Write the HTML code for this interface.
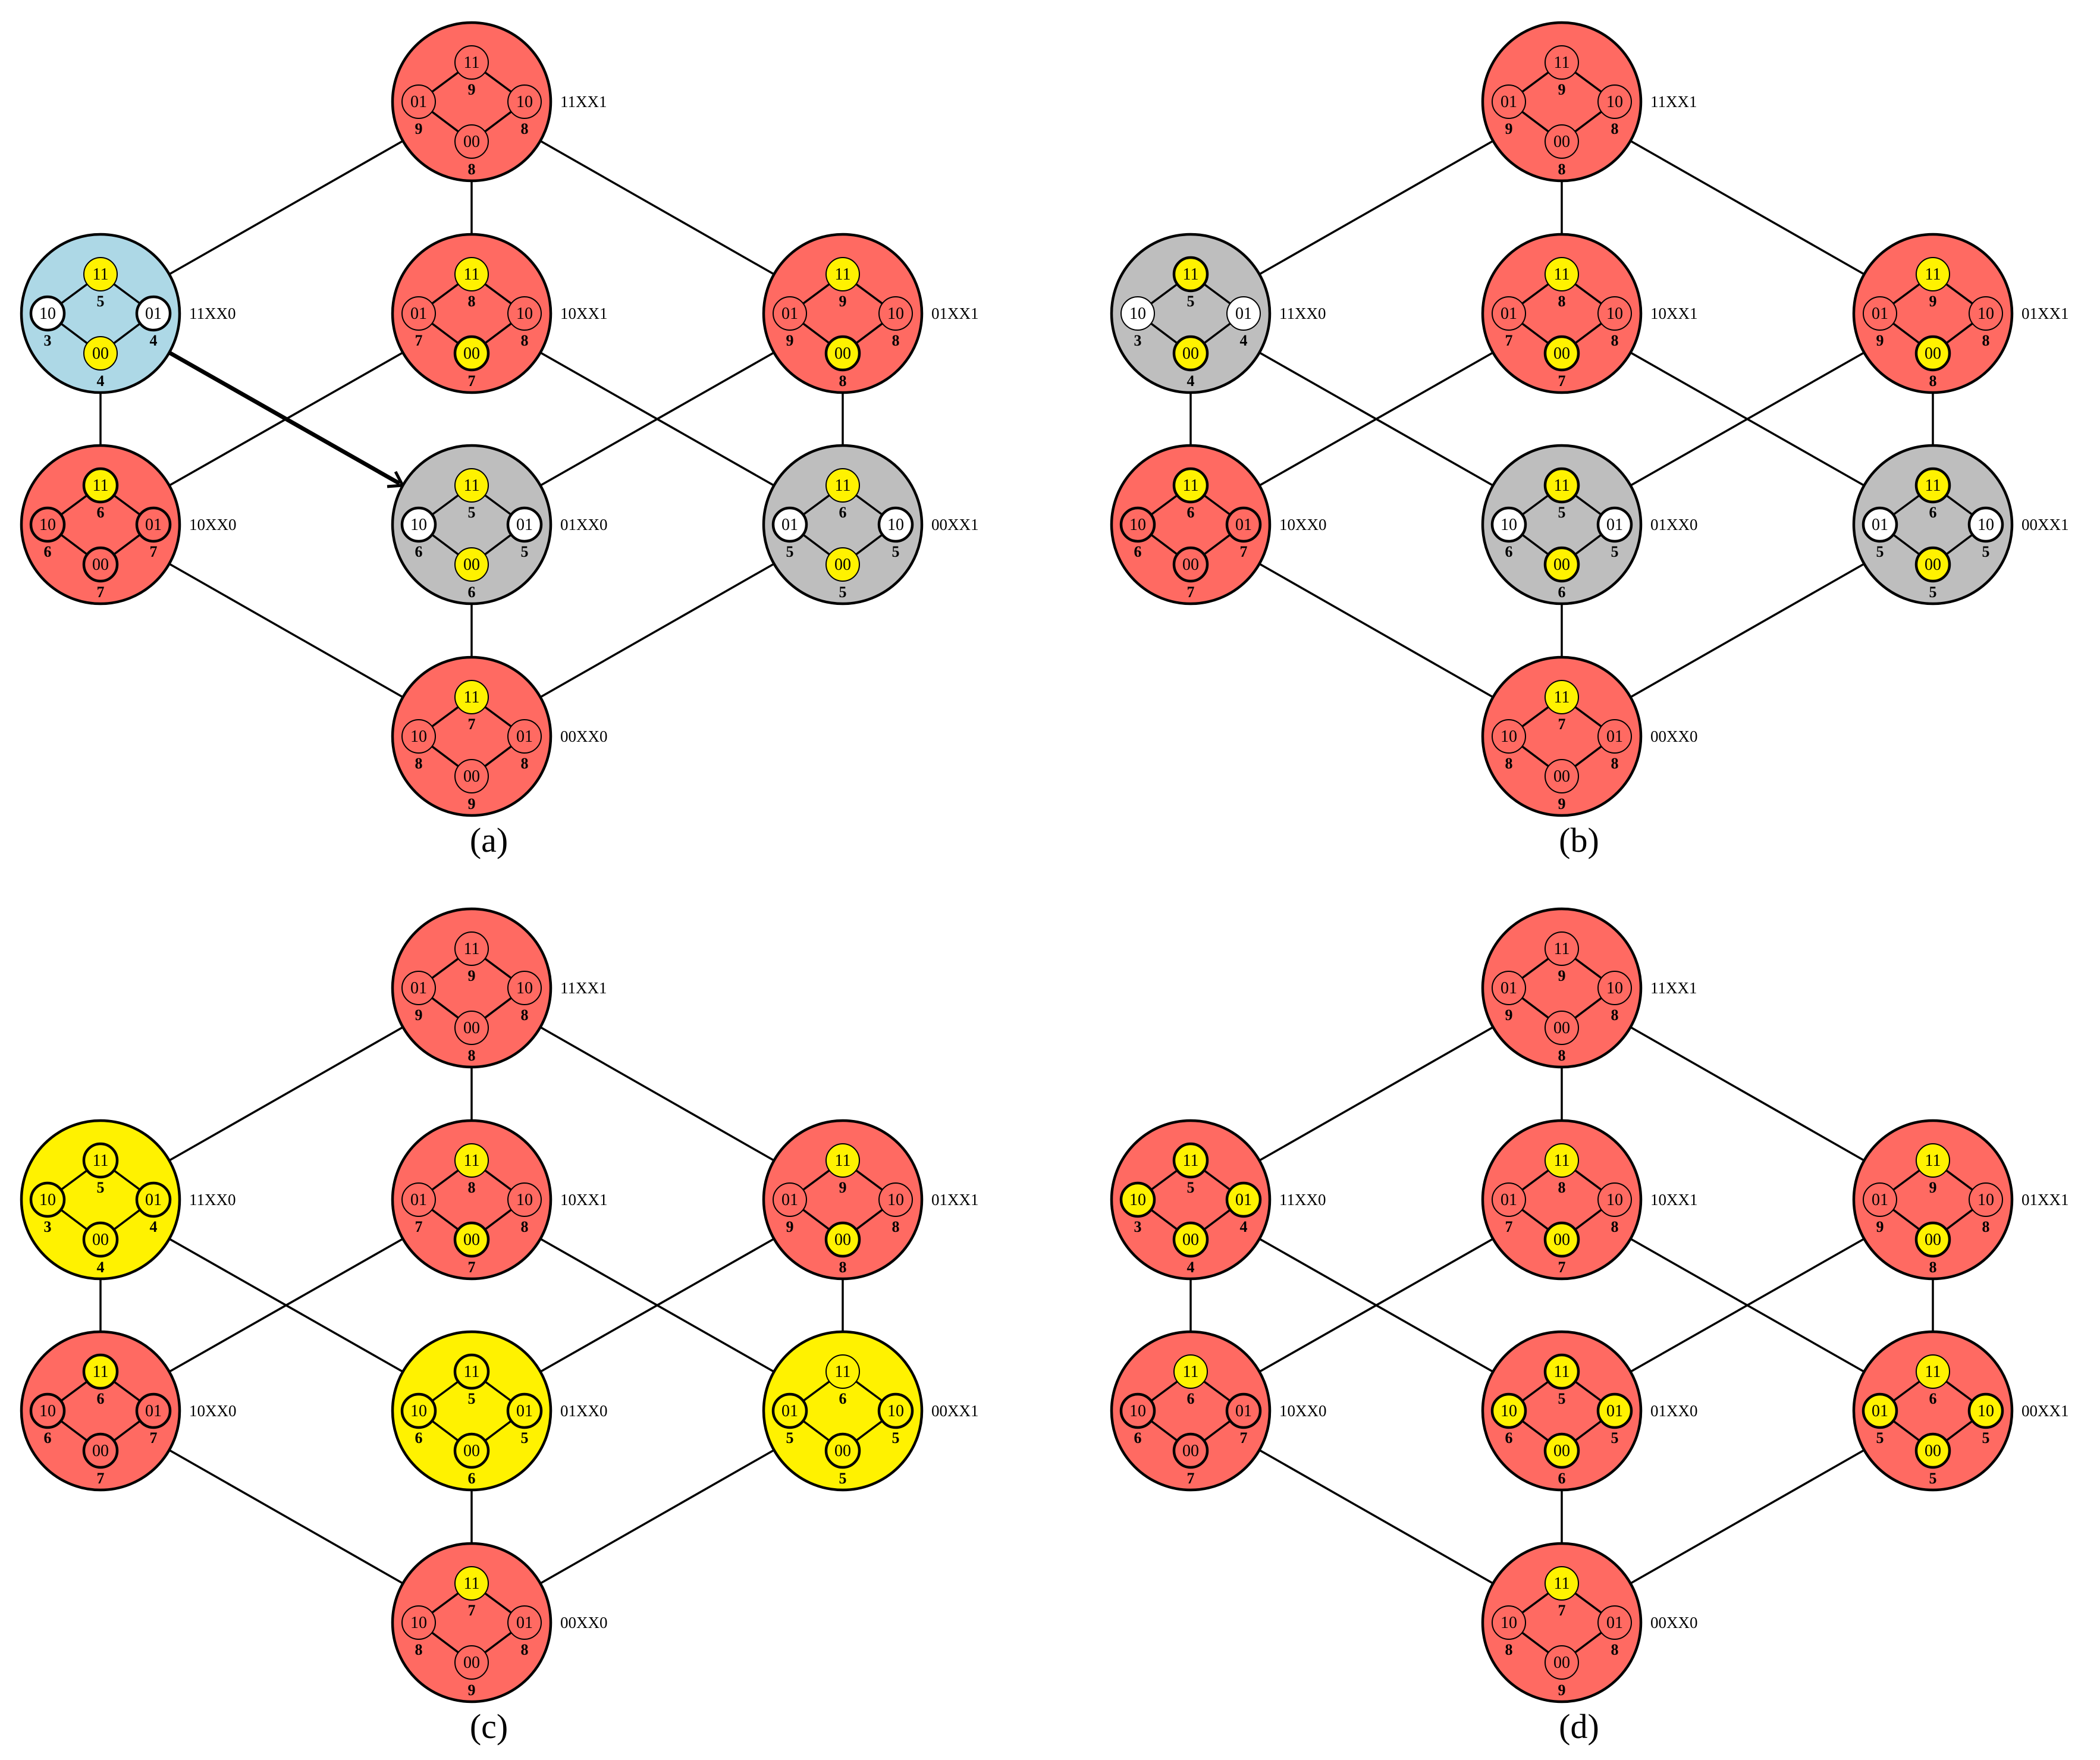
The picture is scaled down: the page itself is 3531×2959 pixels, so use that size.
<!DOCTYPE html>
<html><head><meta charset="utf-8"><style>
html,body{margin:0;padding:0;background:#fff}
svg{display:block}
text{font-family:"Liberation Serif",serif;font-size:28px;text-anchor:middle;fill:#000}
text.n{font-size:26px;font-weight:bold}
text.l{text-anchor:start;font-size:27px}
text.cap{font-size:58px}
.o{stroke:#000;stroke-width:4.5}
.d{fill:none;stroke:#000;stroke-width:3.5}
.t{stroke:#000;stroke-width:2}
.k{stroke:#000;stroke-width:4.5}
.R{fill:#FF6A62}.Y{fill:#FFF200}.W{fill:#fff}.B{fill:#ADD8E6}.G{fill:#BEBEBE}
.e line{stroke:#000;stroke-width:3.5}
</style></head><body>
<svg width="3531" height="2959" viewBox="0 0 3531 2959" xmlns="http://www.w3.org/2000/svg">

<!-- ========== PANEL A ========== -->
<g>
<g class="e">
<line x1="793" y1="171" x2="169" y2="527"/><line x1="793" y1="171" x2="793" y2="527"/><line x1="793" y1="171" x2="1417" y2="527"/>
<line x1="169" y1="527" x2="169" y2="882"/>
<line x1="793" y1="527" x2="169" y2="882"/><line x1="793" y1="527" x2="1417" y2="882"/>
<line x1="1417" y1="527" x2="793" y2="882"/><line x1="1417" y1="527" x2="1417" y2="882"/>
<line x1="169" y1="882" x2="793" y2="1238"/><line x1="793" y1="882" x2="793" y2="1238"/><line x1="1417" y1="882" x2="793" y2="1238"/>
</g>
<line x1="285" y1="593" x2="672" y2="813" stroke="#000" stroke-width="7"/>
<polyline points="651,818 677,816 665,793" fill="none" stroke="#000" stroke-width="5" stroke-linejoin="miter"/>

<g transform="translate(793,171)"><circle r="133" class="o R"/><path class="d" d="M0 -66L-89 0L0 67L89 0Z"/><circle cy="-66" r="28" class="R t"/><circle cx="-89" r="28" class="R t"/><circle cx="89" r="28" class="R t"/><circle cy="67" r="28" class="R t"/><text y="-57">11</text><text x="-89" y="9">01</text><text x="89" y="9">10</text><text y="76">00</text><text class="n" y="-12">9</text><text class="n" x="-89" y="54">9</text><text class="n" x="89" y="54">8</text><text class="n" y="122">8</text><text class="l" x="149" y="9">11XX1</text></g>
<g transform="translate(169,527)"><circle r="133" class="o B"/><path class="d" d="M0 -66L-89 0L0 67L89 0Z"/><circle cy="-66" r="28" class="Y t"/><circle cx="-89" r="28" class="W k"/><circle cx="89" r="28" class="W k"/><circle cy="67" r="28" class="Y t"/><text y="-57">11</text><text x="-89" y="9">10</text><text x="89" y="9">01</text><text y="76">00</text><text class="n" y="-12">5</text><text class="n" x="-89" y="54">3</text><text class="n" x="89" y="54">4</text><text class="n" y="122">4</text><text class="l" x="149" y="9">11XX0</text></g>
<g transform="translate(793,527)"><circle r="133" class="o R"/><path class="d" d="M0 -66L-89 0L0 67L89 0Z"/><circle cy="-66" r="28" class="Y t"/><circle cx="-89" r="28" class="R t"/><circle cx="89" r="28" class="R t"/><circle cy="67" r="28" class="Y k"/><text y="-57">11</text><text x="-89" y="9">01</text><text x="89" y="9">10</text><text y="76">00</text><text class="n" y="-12">8</text><text class="n" x="-89" y="54">7</text><text class="n" x="89" y="54">8</text><text class="n" y="122">7</text><text class="l" x="149" y="9">10XX1</text></g>
<g transform="translate(1417,527)"><circle r="133" class="o R"/><path class="d" d="M0 -66L-89 0L0 67L89 0Z"/><circle cy="-66" r="28" class="Y t"/><circle cx="-89" r="28" class="R t"/><circle cx="89" r="28" class="R t"/><circle cy="67" r="28" class="Y k"/><text y="-57">11</text><text x="-89" y="9">01</text><text x="89" y="9">10</text><text y="76">00</text><text class="n" y="-12">9</text><text class="n" x="-89" y="54">9</text><text class="n" x="89" y="54">8</text><text class="n" y="122">8</text><text class="l" x="149" y="9">01XX1</text></g>
<g transform="translate(169,882)"><circle r="133" class="o R"/><path class="d" d="M0 -66L-89 0L0 67L89 0Z"/><circle cy="-66" r="28" class="Y k"/><circle cx="-89" r="28" class="R k"/><circle cx="89" r="28" class="R k"/><circle cy="67" r="28" class="R k"/><text y="-57">11</text><text x="-89" y="9">10</text><text x="89" y="9">01</text><text y="76">00</text><text class="n" y="-12">6</text><text class="n" x="-89" y="54">6</text><text class="n" x="89" y="54">7</text><text class="n" y="122">7</text><text class="l" x="149" y="9">10XX0</text></g>
<g transform="translate(793,882)"><circle r="133" class="o G"/><path class="d" d="M0 -66L-89 0L0 67L89 0Z"/><circle cy="-66" r="28" class="Y t"/><circle cx="-89" r="28" class="W k"/><circle cx="89" r="28" class="W k"/><circle cy="67" r="28" class="Y t"/><text y="-57">11</text><text x="-89" y="9">10</text><text x="89" y="9">01</text><text y="76">00</text><text class="n" y="-12">5</text><text class="n" x="-89" y="54">6</text><text class="n" x="89" y="54">5</text><text class="n" y="122">6</text><text class="l" x="149" y="9">01XX0</text></g>
<g transform="translate(1417,882)"><circle r="133" class="o G"/><path class="d" d="M0 -66L-89 0L0 67L89 0Z"/><circle cy="-66" r="28" class="Y t"/><circle cx="-89" r="28" class="W k"/><circle cx="89" r="28" class="W k"/><circle cy="67" r="28" class="Y t"/><text y="-57">11</text><text x="-89" y="9">01</text><text x="89" y="9">10</text><text y="76">00</text><text class="n" y="-12">6</text><text class="n" x="-89" y="54">5</text><text class="n" x="89" y="54">5</text><text class="n" y="122">5</text><text class="l" x="149" y="9">00XX1</text></g>
<g transform="translate(793,1238)"><circle r="133" class="o R"/><path class="d" d="M0 -66L-89 0L0 67L89 0Z"/><circle cy="-66" r="28" class="Y t"/><circle cx="-89" r="28" class="R t"/><circle cx="89" r="28" class="R t"/><circle cy="67" r="28" class="R t"/><text y="-57">11</text><text x="-89" y="9">10</text><text x="89" y="9">01</text><text y="76">00</text><text class="n" y="-12">7</text><text class="n" x="-89" y="54">8</text><text class="n" x="89" y="54">8</text><text class="n" y="122">9</text><text class="l" x="149" y="9">00XX0</text></g>
<text class="cap" x="822" y="1432">(a)</text>
</g>

<!-- ========== PANEL B ========== -->
<g transform="translate(1833,0)">
<g class="e">
<line x1="793" y1="171" x2="169" y2="527"/><line x1="793" y1="171" x2="793" y2="527"/><line x1="793" y1="171" x2="1417" y2="527"/>
<line x1="169" y1="527" x2="169" y2="882"/><line x1="169" y1="527" x2="793" y2="882"/>
<line x1="793" y1="527" x2="169" y2="882"/><line x1="793" y1="527" x2="1417" y2="882"/>
<line x1="1417" y1="527" x2="793" y2="882"/><line x1="1417" y1="527" x2="1417" y2="882"/>
<line x1="169" y1="882" x2="793" y2="1238"/><line x1="793" y1="882" x2="793" y2="1238"/><line x1="1417" y1="882" x2="793" y2="1238"/>
</g>
<g transform="translate(793,171)"><circle r="133" class="o R"/><path class="d" d="M0 -66L-89 0L0 67L89 0Z"/><circle cy="-66" r="28" class="R t"/><circle cx="-89" r="28" class="R t"/><circle cx="89" r="28" class="R t"/><circle cy="67" r="28" class="R t"/><text y="-57">11</text><text x="-89" y="9">01</text><text x="89" y="9">10</text><text y="76">00</text><text class="n" y="-12">9</text><text class="n" x="-89" y="54">9</text><text class="n" x="89" y="54">8</text><text class="n" y="122">8</text><text class="l" x="149" y="9">11XX1</text></g>
<g transform="translate(169,527)"><circle r="133" class="o G"/><path class="d" d="M0 -66L-89 0L0 67L89 0Z"/><circle cy="-66" r="28" class="Y k"/><circle cx="-89" r="28" class="W t"/><circle cx="89" r="28" class="W t"/><circle cy="67" r="28" class="Y k"/><text y="-57">11</text><text x="-89" y="9">10</text><text x="89" y="9">01</text><text y="76">00</text><text class="n" y="-12">5</text><text class="n" x="-89" y="54">3</text><text class="n" x="89" y="54">4</text><text class="n" y="122">4</text><text class="l" x="149" y="9">11XX0</text></g>
<g transform="translate(793,527)"><circle r="133" class="o R"/><path class="d" d="M0 -66L-89 0L0 67L89 0Z"/><circle cy="-66" r="28" class="Y t"/><circle cx="-89" r="28" class="R t"/><circle cx="89" r="28" class="R t"/><circle cy="67" r="28" class="Y k"/><text y="-57">11</text><text x="-89" y="9">01</text><text x="89" y="9">10</text><text y="76">00</text><text class="n" y="-12">8</text><text class="n" x="-89" y="54">7</text><text class="n" x="89" y="54">8</text><text class="n" y="122">7</text><text class="l" x="149" y="9">10XX1</text></g>
<g transform="translate(1417,527)"><circle r="133" class="o R"/><path class="d" d="M0 -66L-89 0L0 67L89 0Z"/><circle cy="-66" r="28" class="Y t"/><circle cx="-89" r="28" class="R t"/><circle cx="89" r="28" class="R t"/><circle cy="67" r="28" class="Y k"/><text y="-57">11</text><text x="-89" y="9">01</text><text x="89" y="9">10</text><text y="76">00</text><text class="n" y="-12">9</text><text class="n" x="-89" y="54">9</text><text class="n" x="89" y="54">8</text><text class="n" y="122">8</text><text class="l" x="149" y="9">01XX1</text></g>
<g transform="translate(169,882)"><circle r="133" class="o R"/><path class="d" d="M0 -66L-89 0L0 67L89 0Z"/><circle cy="-66" r="28" class="Y k"/><circle cx="-89" r="28" class="R k"/><circle cx="89" r="28" class="R k"/><circle cy="67" r="28" class="R k"/><text y="-57">11</text><text x="-89" y="9">10</text><text x="89" y="9">01</text><text y="76">00</text><text class="n" y="-12">6</text><text class="n" x="-89" y="54">6</text><text class="n" x="89" y="54">7</text><text class="n" y="122">7</text><text class="l" x="149" y="9">10XX0</text></g>
<g transform="translate(793,882)"><circle r="133" class="o G"/><path class="d" d="M0 -66L-89 0L0 67L89 0Z"/><circle cy="-66" r="28" class="Y k"/><circle cx="-89" r="28" class="W k"/><circle cx="89" r="28" class="W k"/><circle cy="67" r="28" class="Y k"/><text y="-57">11</text><text x="-89" y="9">10</text><text x="89" y="9">01</text><text y="76">00</text><text class="n" y="-12">5</text><text class="n" x="-89" y="54">6</text><text class="n" x="89" y="54">5</text><text class="n" y="122">6</text><text class="l" x="149" y="9">01XX0</text></g>
<g transform="translate(1417,882)"><circle r="133" class="o G"/><path class="d" d="M0 -66L-89 0L0 67L89 0Z"/><circle cy="-66" r="28" class="Y k"/><circle cx="-89" r="28" class="W k"/><circle cx="89" r="28" class="W k"/><circle cy="67" r="28" class="Y k"/><text y="-57">11</text><text x="-89" y="9">01</text><text x="89" y="9">10</text><text y="76">00</text><text class="n" y="-12">6</text><text class="n" x="-89" y="54">5</text><text class="n" x="89" y="54">5</text><text class="n" y="122">5</text><text class="l" x="149" y="9">00XX1</text></g>
<g transform="translate(793,1238)"><circle r="133" class="o R"/><path class="d" d="M0 -66L-89 0L0 67L89 0Z"/><circle cy="-66" r="28" class="Y t"/><circle cx="-89" r="28" class="R t"/><circle cx="89" r="28" class="R t"/><circle cy="67" r="28" class="R t"/><text y="-57">11</text><text x="-89" y="9">10</text><text x="89" y="9">01</text><text y="76">00</text><text class="n" y="-12">7</text><text class="n" x="-89" y="54">8</text><text class="n" x="89" y="54">8</text><text class="n" y="122">9</text><text class="l" x="149" y="9">00XX0</text></g>
<text class="cap" x="822" y="1432">(b)</text>
</g>

<!-- ========== PANEL C ========== -->
<g transform="translate(0,1490)">
<g class="e">
<line x1="793" y1="171" x2="169" y2="527"/><line x1="793" y1="171" x2="793" y2="527"/><line x1="793" y1="171" x2="1417" y2="527"/>
<line x1="169" y1="527" x2="169" y2="882"/><line x1="169" y1="527" x2="793" y2="882"/>
<line x1="793" y1="527" x2="169" y2="882"/><line x1="793" y1="527" x2="1417" y2="882"/>
<line x1="1417" y1="527" x2="793" y2="882"/><line x1="1417" y1="527" x2="1417" y2="882"/>
<line x1="169" y1="882" x2="793" y2="1238"/><line x1="793" y1="882" x2="793" y2="1238"/><line x1="1417" y1="882" x2="793" y2="1238"/>
</g>
<g transform="translate(793,171)"><circle r="133" class="o R"/><path class="d" d="M0 -66L-89 0L0 67L89 0Z"/><circle cy="-66" r="28" class="R t"/><circle cx="-89" r="28" class="R t"/><circle cx="89" r="28" class="R t"/><circle cy="67" r="28" class="R t"/><text y="-57">11</text><text x="-89" y="9">01</text><text x="89" y="9">10</text><text y="76">00</text><text class="n" y="-12">9</text><text class="n" x="-89" y="54">9</text><text class="n" x="89" y="54">8</text><text class="n" y="122">8</text><text class="l" x="149" y="9">11XX1</text></g>
<g transform="translate(169,527)"><circle r="133" class="o Y"/><path class="d" d="M0 -66L-89 0L0 67L89 0Z"/><circle cy="-66" r="28" class="Y k"/><circle cx="-89" r="28" class="Y k"/><circle cx="89" r="28" class="Y k"/><circle cy="67" r="28" class="Y k"/><text y="-57">11</text><text x="-89" y="9">10</text><text x="89" y="9">01</text><text y="76">00</text><text class="n" y="-12">5</text><text class="n" x="-89" y="54">3</text><text class="n" x="89" y="54">4</text><text class="n" y="122">4</text><text class="l" x="149" y="9">11XX0</text></g>
<g transform="translate(793,527)"><circle r="133" class="o R"/><path class="d" d="M0 -66L-89 0L0 67L89 0Z"/><circle cy="-66" r="28" class="Y t"/><circle cx="-89" r="28" class="R t"/><circle cx="89" r="28" class="R t"/><circle cy="67" r="28" class="Y k"/><text y="-57">11</text><text x="-89" y="9">01</text><text x="89" y="9">10</text><text y="76">00</text><text class="n" y="-12">8</text><text class="n" x="-89" y="54">7</text><text class="n" x="89" y="54">8</text><text class="n" y="122">7</text><text class="l" x="149" y="9">10XX1</text></g>
<g transform="translate(1417,527)"><circle r="133" class="o R"/><path class="d" d="M0 -66L-89 0L0 67L89 0Z"/><circle cy="-66" r="28" class="Y t"/><circle cx="-89" r="28" class="R t"/><circle cx="89" r="28" class="R t"/><circle cy="67" r="28" class="Y k"/><text y="-57">11</text><text x="-89" y="9">01</text><text x="89" y="9">10</text><text y="76">00</text><text class="n" y="-12">9</text><text class="n" x="-89" y="54">9</text><text class="n" x="89" y="54">8</text><text class="n" y="122">8</text><text class="l" x="149" y="9">01XX1</text></g>
<g transform="translate(169,882)"><circle r="133" class="o R"/><path class="d" d="M0 -66L-89 0L0 67L89 0Z"/><circle cy="-66" r="28" class="Y k"/><circle cx="-89" r="28" class="R k"/><circle cx="89" r="28" class="R k"/><circle cy="67" r="28" class="R k"/><text y="-57">11</text><text x="-89" y="9">10</text><text x="89" y="9">01</text><text y="76">00</text><text class="n" y="-12">6</text><text class="n" x="-89" y="54">6</text><text class="n" x="89" y="54">7</text><text class="n" y="122">7</text><text class="l" x="149" y="9">10XX0</text></g>
<g transform="translate(793,882)"><circle r="133" class="o Y"/><path class="d" d="M0 -66L-89 0L0 67L89 0Z"/><circle cy="-66" r="28" class="Y k"/><circle cx="-89" r="28" class="Y k"/><circle cx="89" r="28" class="Y k"/><circle cy="67" r="28" class="Y k"/><text y="-57">11</text><text x="-89" y="9">10</text><text x="89" y="9">01</text><text y="76">00</text><text class="n" y="-12">5</text><text class="n" x="-89" y="54">6</text><text class="n" x="89" y="54">5</text><text class="n" y="122">6</text><text class="l" x="149" y="9">01XX0</text></g>
<g transform="translate(1417,882)"><circle r="133" class="o Y"/><path class="d" d="M0 -66L-89 0L0 67L89 0Z"/><circle cy="-66" r="28" class="Y t"/><circle cx="-89" r="28" class="Y k"/><circle cx="89" r="28" class="Y k"/><circle cy="67" r="28" class="Y k"/><text y="-57">11</text><text x="-89" y="9">01</text><text x="89" y="9">10</text><text y="76">00</text><text class="n" y="-12">6</text><text class="n" x="-89" y="54">5</text><text class="n" x="89" y="54">5</text><text class="n" y="122">5</text><text class="l" x="149" y="9">00XX1</text></g>
<g transform="translate(793,1238)"><circle r="133" class="o R"/><path class="d" d="M0 -66L-89 0L0 67L89 0Z"/><circle cy="-66" r="28" class="Y t"/><circle cx="-89" r="28" class="R t"/><circle cx="89" r="28" class="R t"/><circle cy="67" r="28" class="R t"/><text y="-57">11</text><text x="-89" y="9">10</text><text x="89" y="9">01</text><text y="76">00</text><text class="n" y="-12">7</text><text class="n" x="-89" y="54">8</text><text class="n" x="89" y="54">8</text><text class="n" y="122">9</text><text class="l" x="149" y="9">00XX0</text></g>
<text class="cap" x="822" y="1432">(c)</text>
</g>

<!-- ========== PANEL D ========== -->
<g transform="translate(1833,1490)">
<g class="e">
<line x1="793" y1="171" x2="169" y2="527"/><line x1="793" y1="171" x2="793" y2="527"/><line x1="793" y1="171" x2="1417" y2="527"/>
<line x1="169" y1="527" x2="169" y2="882"/><line x1="169" y1="527" x2="793" y2="882"/>
<line x1="793" y1="527" x2="169" y2="882"/><line x1="793" y1="527" x2="1417" y2="882"/>
<line x1="1417" y1="527" x2="793" y2="882"/><line x1="1417" y1="527" x2="1417" y2="882"/>
<line x1="169" y1="882" x2="793" y2="1238"/><line x1="793" y1="882" x2="793" y2="1238"/><line x1="1417" y1="882" x2="793" y2="1238"/>
</g>
<g transform="translate(793,171)"><circle r="133" class="o R"/><path class="d" d="M0 -66L-89 0L0 67L89 0Z"/><circle cy="-66" r="28" class="R t"/><circle cx="-89" r="28" class="R t"/><circle cx="89" r="28" class="R t"/><circle cy="67" r="28" class="R t"/><text y="-57">11</text><text x="-89" y="9">01</text><text x="89" y="9">10</text><text y="76">00</text><text class="n" y="-12">9</text><text class="n" x="-89" y="54">9</text><text class="n" x="89" y="54">8</text><text class="n" y="122">8</text><text class="l" x="149" y="9">11XX1</text></g>
<g transform="translate(169,527)"><circle r="133" class="o R"/><path class="d" d="M0 -66L-89 0L0 67L89 0Z"/><circle cy="-66" r="28" class="Y k"/><circle cx="-89" r="28" class="Y k"/><circle cx="89" r="28" class="Y k"/><circle cy="67" r="28" class="Y k"/><text y="-57">11</text><text x="-89" y="9">10</text><text x="89" y="9">01</text><text y="76">00</text><text class="n" y="-12">5</text><text class="n" x="-89" y="54">3</text><text class="n" x="89" y="54">4</text><text class="n" y="122">4</text><text class="l" x="149" y="9">11XX0</text></g>
<g transform="translate(793,527)"><circle r="133" class="o R"/><path class="d" d="M0 -66L-89 0L0 67L89 0Z"/><circle cy="-66" r="28" class="Y t"/><circle cx="-89" r="28" class="R t"/><circle cx="89" r="28" class="R t"/><circle cy="67" r="28" class="Y k"/><text y="-57">11</text><text x="-89" y="9">01</text><text x="89" y="9">10</text><text y="76">00</text><text class="n" y="-12">8</text><text class="n" x="-89" y="54">7</text><text class="n" x="89" y="54">8</text><text class="n" y="122">7</text><text class="l" x="149" y="9">10XX1</text></g>
<g transform="translate(1417,527)"><circle r="133" class="o R"/><path class="d" d="M0 -66L-89 0L0 67L89 0Z"/><circle cy="-66" r="28" class="Y t"/><circle cx="-89" r="28" class="R t"/><circle cx="89" r="28" class="R t"/><circle cy="67" r="28" class="Y k"/><text y="-57">11</text><text x="-89" y="9">01</text><text x="89" y="9">10</text><text y="76">00</text><text class="n" y="-12">9</text><text class="n" x="-89" y="54">9</text><text class="n" x="89" y="54">8</text><text class="n" y="122">8</text><text class="l" x="149" y="9">01XX1</text></g>
<g transform="translate(169,882)"><circle r="133" class="o R"/><path class="d" d="M0 -66L-89 0L0 67L89 0Z"/><circle cy="-66" r="28" class="Y t"/><circle cx="-89" r="28" class="R k"/><circle cx="89" r="28" class="R k"/><circle cy="67" r="28" class="R k"/><text y="-57">11</text><text x="-89" y="9">10</text><text x="89" y="9">01</text><text y="76">00</text><text class="n" y="-12">6</text><text class="n" x="-89" y="54">6</text><text class="n" x="89" y="54">7</text><text class="n" y="122">7</text><text class="l" x="149" y="9">10XX0</text></g>
<g transform="translate(793,882)"><circle r="133" class="o R"/><path class="d" d="M0 -66L-89 0L0 67L89 0Z"/><circle cy="-66" r="28" class="Y k"/><circle cx="-89" r="28" class="Y k"/><circle cx="89" r="28" class="Y k"/><circle cy="67" r="28" class="Y k"/><text y="-57">11</text><text x="-89" y="9">10</text><text x="89" y="9">01</text><text y="76">00</text><text class="n" y="-12">5</text><text class="n" x="-89" y="54">6</text><text class="n" x="89" y="54">5</text><text class="n" y="122">6</text><text class="l" x="149" y="9">01XX0</text></g>
<g transform="translate(1417,882)"><circle r="133" class="o R"/><path class="d" d="M0 -66L-89 0L0 67L89 0Z"/><circle cy="-66" r="28" class="Y t"/><circle cx="-89" r="28" class="Y k"/><circle cx="89" r="28" class="Y k"/><circle cy="67" r="28" class="Y k"/><text y="-57">11</text><text x="-89" y="9">01</text><text x="89" y="9">10</text><text y="76">00</text><text class="n" y="-12">6</text><text class="n" x="-89" y="54">5</text><text class="n" x="89" y="54">5</text><text class="n" y="122">5</text><text class="l" x="149" y="9">00XX1</text></g>
<g transform="translate(793,1238)"><circle r="133" class="o R"/><path class="d" d="M0 -66L-89 0L0 67L89 0Z"/><circle cy="-66" r="28" class="Y t"/><circle cx="-89" r="28" class="R t"/><circle cx="89" r="28" class="R t"/><circle cy="67" r="28" class="R t"/><text y="-57">11</text><text x="-89" y="9">10</text><text x="89" y="9">01</text><text y="76">00</text><text class="n" y="-12">7</text><text class="n" x="-89" y="54">8</text><text class="n" x="89" y="54">8</text><text class="n" y="122">9</text><text class="l" x="149" y="9">00XX0</text></g>
<text class="cap" x="822" y="1432">(d)</text>
</g>

</svg>
</body></html>
